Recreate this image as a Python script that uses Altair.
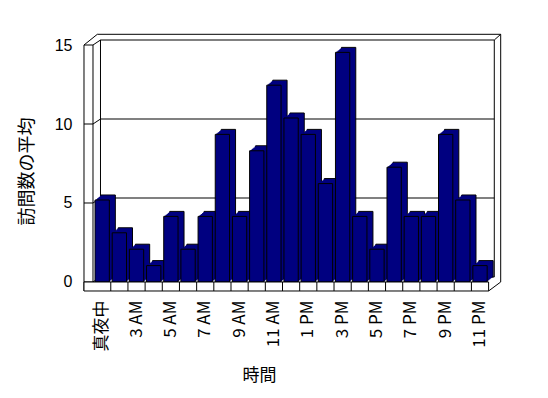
import altair as alt
import pandas as pd

# ---- data ----
HOURS = ["真夜中", "2 AM", "3 AM", "4 AM", "5 AM", "6 AM", "7 AM", "8 AM", "9 AM",
         "10 AM", "11 AM", "12 PM", "1 PM", "2 PM", "3 PM", "4 PM", "5 PM", "6 PM",
         "7 PM", "8 PM", "9 PM", "10 PM", "11 PM"]
VISITS = [5, 3, 2, 1, 4, 2, 4, 9, 4, 8, 12, 10, 9, 6, 14, 4, 2, 7, 4, 4, 9, 5, 1]
Y_TICKS = [0, 5, 10, 15]
X_LABELS = HOURS[::2]

# ---- layout / style ----
W, H = 395, 237
NAVY = "#000080"
DX, DY = 6, -5           # depth offset of the 3-D extrusion (px)
BAR_TOP = 14.45          # bars sit nearer the viewer: slightly larger scale (perspective)
CJK = "Noto Sans CJK JP"
LAT = "Liberation Sans"
PI = 0.167

df = pd.DataFrame({"hour": HOURS, "visits": VISITS})
ticks_df = pd.DataFrame({"tick": Y_TICKS})

xscale = alt.Scale(domain=HOURS, paddingInner=PI, paddingOuter=PI / 2)
X_AXIS = alt.Axis(values=X_LABELS, labelAngle=270, labelAlign="right",
                  labelBaseline="middle", domain=False, ticks=False,
                  tickSize=0, grid=False, labelPadding=18,
                  labelFont=CJK, labelFontSize=17, labelColor="black",
                  labelOverlap=False,
                  title="時間", titleFont=CJK, titleFontSize=17,
                  titleFontWeight="normal", titleColor="black",
                  titleAlign="center", titleBaseline="middle",
                  titleX=165.4, titleY=94)


def xband(**kw):
    return alt.X("hour:N", scale=xscale, axis=X_AXIS, sort=None, **kw)


# frame segments of the 3-D box (plot pixel coordinates)
FRAME = pd.DataFrame([
    dict(x=-9.6, x2=-9.6, y=0, y2=246),
    dict(x=-0.6, x2=-0.6, y=0, y2=237),
    dict(x=6.9, x2=6.9, y=-5, y2=232),
    dict(x=400.7, x2=400.7, y=-5, y2=232),
    dict(x=-9.6, x2=3.7, y=0, y2=-10.7),
    dict(x=3.7, x2=407.1, y=-10.7, y2=-10.7),
    dict(x=400.7, x2=407.1, y=-5, y2=-10.7),
    dict(x=407.1, x2=407.1, y=-10.7, y2=237),
    dict(x=395, x2=407.1, y=246, y2=237),
])

frame = alt.Chart(FRAME).mark_rule(color="black", strokeWidth=1).encode(
    x=alt.X("x:Q", scale=None), x2="x2:Q",
    y=alt.Y("y:Q", scale=None), y2="y2:Q",
)

yscale_axis = alt.Scale(domain=[0, 15], nice=False)

grid_front = alt.Chart(ticks_df).mark_rule(color="black").encode(
    x=alt.value(-9.6), x2=alt.value(-0.6),
    y=alt.Y("tick:Q", scale=yscale_axis,
            axis=alt.Axis(values=Y_TICKS, domain=False, ticks=False, tickSize=0,
                          grid=False, labelPadding=21.6, labelFont=LAT,
                          labelFontSize=16, labelColor="black",
                          title="訪問数の平均", titleFont=CJK, titleFontSize=18,
                          titleFontWeight="normal", titleColor="black",
                          titleAngle=270, titleAlign="center",
                          titleBaseline="middle", titleX=-65.6, titleY=126)),
)
grid_diag = alt.Chart(ticks_df).mark_rule(color="black", y2Offset=DY).encode(
    x=alt.value(-0.6), x2=alt.value(6.9),
    y=alt.Y("tick:Q", scale=yscale_axis, axis=None), y2="tick:Q",
)
grid_back = alt.Chart(ticks_df).mark_rule(color="black", yOffset=DY).encode(
    x=alt.value(6.9), x2=alt.value(400.7),
    y=alt.Y("tick:Q", scale=yscale_axis, axis=None),
)

ybar = alt.Y("visits:Q", scale=alt.Scale(domain=[0, BAR_TOP], nice=False), axis=None)


def copy_layer(k, stroked):
    dx = DX * k / 6
    dy = DY * k / 6
    kw = dict(color=NAVY, xOffset=dx, x2Offset=dx, yOffset=dy, y2Offset=dy)
    if stroked:
        kw.update(stroke="black", strokeWidth=1)
    return alt.Chart(df).mark_bar(**kw).encode(x=xband(), y=ybar)


back_layers = [copy_layer(6, True)] + [copy_layer(k, False) for k in range(5, 0, -1)]

front = alt.Chart(df).mark_bar(color=NAVY, stroke="black", strokeWidth=1).encode(
    x=xband(), y=ybar,
)

floor = alt.Chart(pd.DataFrame({"k": [0]})).mark_rect(
    fill="white", stroke="black", strokeWidth=1).encode(
    x=alt.value(-9.6), x2=alt.value(W), y=alt.value(H), y2=alt.value(H + 9),
)

dividers = alt.Chart(pd.DataFrame({"hour": HOURS[1:]})).mark_rule(
    color="black", xOffset=-PI * W / len(HOURS) / 2).encode(
    x=xband(bandPosition=0),
    y=alt.value(H), y2=alt.value(H + 9),
)

chart = alt.layer(
    frame, grid_front, grid_diag, grid_back, *back_layers, front, floor, dividers
).resolve_scale(y="independent").properties(
    width=W, height=H,
    autosize=alt.AutoSizeParams(type="none"),
    padding={"left": 85.6, "top": 37, "right": 40, "bottom": 112},
    background="white",
).configure_view(stroke=None)

chart.save("out.html", embed_options={"renderer": "svg", "actions": False})
